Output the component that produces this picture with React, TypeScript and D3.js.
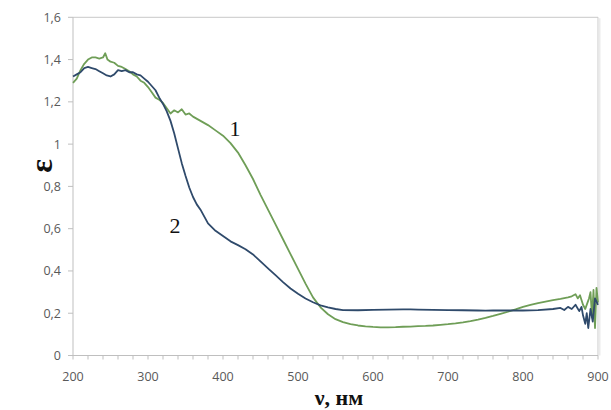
import React from "react";
import * as d3 from "d3";

const nm1 = [200,205,210,215,220,225,230,235,240,243,246,250,255,260,265,270,275,280,285,290,295,300,305,310,315,320,325,330,335,340,345,350,355,360,370,380,390,400,410,420,430,440,450,460,470,480,490,500,510,520,530,540,550,560,570,580,590,600,610,620,630,640,650,660,670,680,690,700,710,720,730,740,750,760,770,780,790,800,810,820,830,840,850,860,865,870,873,876,880,883,886,888,890,892,894,896,898,900];
const eps1 = [1.29,1.31,1.35,1.38,1.40,1.41,1.41,1.405,1.41,1.43,1.40,1.39,1.385,1.37,1.365,1.355,1.345,1.33,1.32,1.30,1.29,1.27,1.245,1.22,1.21,1.195,1.17,1.145,1.16,1.15,1.165,1.14,1.145,1.13,1.11,1.09,1.065,1.04,1.005,0.96,0.90,0.835,0.76,0.69,0.62,0.55,0.48,0.41,0.34,0.275,0.228,0.195,0.172,0.158,0.148,0.142,0.138,0.135,0.133,0.133,0.134,0.136,0.137,0.139,0.140,0.142,0.145,0.148,0.152,0.157,0.163,0.170,0.178,0.187,0.197,0.207,0.218,0.230,0.240,0.248,0.255,0.262,0.268,0.275,0.28,0.29,0.27,0.285,0.24,0.22,0.25,0.27,0.30,0.18,0.31,0.13,0.32,0.25];

const nm2 = [200,205,210,215,220,225,230,235,240,245,250,255,260,265,270,275,280,285,290,295,300,305,310,315,320,325,330,335,340,345,350,355,360,365,370,380,390,400,410,420,430,440,450,460,470,480,490,500,510,520,530,540,550,560,580,600,620,640,650,660,680,700,720,740,750,760,780,800,820,840,850,855,860,865,870,875,878,880,883,885,887,890,893,896,900];
const eps2 = [1.32,1.33,1.34,1.36,1.365,1.36,1.355,1.345,1.335,1.325,1.32,1.33,1.35,1.345,1.35,1.34,1.34,1.33,1.325,1.31,1.295,1.275,1.255,1.22,1.19,1.155,1.11,1.05,0.98,0.91,0.85,0.795,0.75,0.715,0.69,0.625,0.59,0.565,0.54,0.522,0.503,0.478,0.445,0.412,0.38,0.347,0.317,0.292,0.27,0.252,0.237,0.228,0.22,0.215,0.214,0.216,0.217,0.218,0.218,0.217,0.216,0.215,0.214,0.213,0.212,0.213,0.213,0.213,0.215,0.22,0.225,0.215,0.23,0.22,0.24,0.21,0.23,0.19,0.15,0.2,0.13,0.22,0.16,0.27,0.24];

const xTicks = [200,300,400,500,600,700,800,900];
const yTicks = [0,0.2,0.4,0.6,0.8,1,1.2,1.4,1.6];
const minorStep = 20;

const W = 611, H = 410;
const left = 73, right = 598, top = 17.3, bottom = 355.5;

export default function App() {
  const x = d3.scaleLinear().domain([200, 900]).range([left, right]);
  const y = d3.scaleLinear().domain([0, 1.6]).range([bottom, top]);
  const line = d3.line<[number, number]>().x(d => x(d[0])).y(d => y(d[1]));
  const s1 = nm1.map((n, i) => [n, eps1[i]] as [number, number]);
  const s2 = nm2.map((n, i) => [n, eps2[i]] as [number, number]);
  const minor = d3.range(200, 901, minorStep);
  const fmt = (v: number) => String(Math.round(v * 10) / 10).replace(".", ",");
  const axisCol = "#BFBFBF";
  const tickFont = "'Open Sans', 'Liberation Sans', sans-serif";
  const serif = "'Liberation Serif', 'DejaVu Serif', serif";
  return (
    <svg width={W} height={H} style={{ position: "absolute", left: 0, top: 0, background: "#fff" }}>
      <rect x={0} y={0} width={W} height={H} fill="#fff" />
      <line x1={left} x2={right} y1={top} y2={top} stroke="#C8C8C8" strokeWidth={1} />
      <line x1={right} x2={right} y1={top} y2={bottom} stroke="#C8C8C8" strokeWidth={1} />
      <line x1={right + 1.5} x2={right + 1.5} y1={top + 1} y2={bottom} stroke="#EBEBEB" strokeWidth={2} />
      <line x1={left} x2={left} y1={top} y2={bottom} stroke={axisCol} strokeWidth={1} />
      <line x1={left} x2={right} y1={bottom} y2={bottom} stroke={axisCol} strokeWidth={1} />
      {yTicks.map(t => (
        <g key={"y" + t}>
          <line x1={left - 5} x2={left} y1={y(t)} y2={y(t)} stroke={axisCol} />
          <text x={left - 12} y={y(t)} dy="0.35em" textAnchor="end" fontSize={12.5} fill="#595959" fontFamily={tickFont}>{fmt(t)}</text>
        </g>
      ))}
      {minor.map(t => (
        <line key={"m" + t} x1={x(t)} x2={x(t)} y1={bottom} y2={bottom + 4} stroke={axisCol} />
      ))}
      {xTicks.map(t => (
        <text key={"x" + t} x={x(t)} y={bottom + 21} dy="0.35em" textAnchor="middle" fontSize={12.5} fill="#595959" fontFamily={tickFont}>{t}</text>
      ))}
      <path d={line(s1) || ""} fill="none" stroke="#6F9E57" strokeWidth={1.8} strokeLinejoin="round" />
      <path d={line(s2) || ""} fill="none" stroke="#2F4A6B" strokeWidth={1.8} strokeLinejoin="round" />
      <text x={235} y={128} dy="0.35em" textAnchor="middle" fontSize={22} fontFamily={serif} fill="#111">1</text>
      <text x={175} y={225} dy="0.35em" textAnchor="middle" fontSize={22} fontFamily={serif} fill="#111">2</text>
      <text transform="translate(42,166) rotate(-90)" textAnchor="middle" dy="0.3em" fontSize={32} fontWeight="bold" fontFamily={serif} fill="#111">ε</text>
      <text x={339} y={405} textAnchor="middle" fontSize={22} fontWeight="bold" fontFamily={serif} fill="#111">ν, нм</text>
    </svg>
  );
}
